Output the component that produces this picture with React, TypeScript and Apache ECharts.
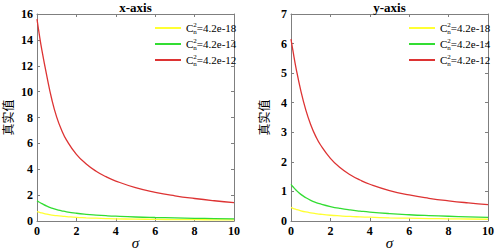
import React, { useEffect, useRef } from "react";
import * as echarts from "echarts";

const sigma = [0, 0.1, 0.25, 0.5, 0.75, 1, 1.25, 1.5, 2, 2.5, 3, 3.5, 4, 5, 6, 7, 8, 9, 10];
const seriesNames = ["C_n^2=4.2e-18", "C_n^2=4.2e-14", "C_n^2=4.2e-12"];
const seriesColors = ["#ffff33", "#33dd33", "#dd3333"];
const panelTitles = ["x-axis", "y-axis"];
const xTicks = [0, 2, 4, 6, 8, 10];
const yMaxes = [16, 7];
const yIntervals = [2, 1];

// x-axis panel
const xYellow = [0.72, 0.68, 0.62, 0.53, 0.46, 0.41, 0.37, 0.34, 0.28, 0.245, 0.215, 0.19, 0.17, 0.145, 0.125, 0.11, 0.1, 0.09, 0.08];
const xGreen = [1.55, 1.47, 1.34, 1.15, 1.0, 0.88, 0.79, 0.71, 0.6, 0.52, 0.46, 0.41, 0.37, 0.31, 0.27, 0.24, 0.21, 0.19, 0.17];
const xRed = [15.6, 14.58, 13.19, 11.2, 9.41, 8.03, 7.02, 6.25, 5.15, 4.41, 3.85, 3.43, 3.09, 2.58, 2.22, 1.95, 1.74, 1.565, 1.42];

// y-axis panel
const yYellow = [0.46, 0.43, 0.395, 0.345, 0.305, 0.275, 0.25, 0.228, 0.195, 0.172, 0.153, 0.14, 0.128, 0.108, 0.094, 0.083, 0.074, 0.067, 0.06];
const yGreen = [1.24, 1.16, 1.05, 0.9, 0.79, 0.7, 0.63, 0.575, 0.49, 0.425, 0.375, 0.335, 0.3, 0.25, 0.212, 0.183, 0.16, 0.14, 0.12];
const yRed = [6.15, 5.75, 5.19, 4.4, 3.76, 3.26, 2.87, 2.57, 2.12, 1.8, 1.566, 1.386, 1.243, 1.03, 0.88, 0.768, 0.681, 0.612, 0.555];

const panels = [
  [xYellow, xGreen, xRed],
  [yYellow, yGreen, yRed],
];

const SERIF = "'Liberation Serif', 'Times New Roman', 'DejaVu Serif', serif";
const CJK = "'Liberation Serif', 'Noto Sans CJK SC', serif";
const AXIS_COLOR = "#7f7f7f";

export default function App() {
  const ref = useRef<HTMLDivElement>(null);

  useEffect(() => {
    if (!ref.current) return;
    const chart = echarts.init(ref.current, undefined, { renderer: "svg" });

    const grids = [
      { left: 37, top: 14, width: 197, height: 207, outerBoundsMode: "none", containLabel: false },
      { left: 291, top: 14, width: 197, height: 207, outerBoundsMode: "none", containLabel: false },
    ];

    const lineCfg = { show: true, onZero: false, lineStyle: { color: AXIS_COLOR, width: 1 } };
    const tickCfg = { show: true, inside: true, length: 3, lineStyle: { color: AXIS_COLOR } };
    const labelCfg = { color: "#000", fontFamily: SERIF, fontWeight: "bold", fontSize: 12, margin: 4 };

    const xAxes: any[] = [];
    const yAxes: any[] = [];
    grids.forEach((_, g) => {
      xAxes.push({
        type: "value",
        gridIndex: g,
        position: "bottom",
        min: xTicks[0],
        max: xTicks[xTicks.length - 1],
        interval: 2,
        axisLine: lineCfg,
        axisTick: tickCfg,
        axisLabel: labelCfg,
        splitLine: { show: false },
        name: "σ",
        nameLocation: "middle",
        nameGap: 14,
        nameMoveOverlap: false,
        nameTextStyle: { color: "#000", fontFamily: SERIF, fontStyle: "italic", fontSize: 15 },
      });
      xAxes.push({
        type: "value",
        gridIndex: g,
        position: "top",
        min: xTicks[0],
        max: xTicks[xTicks.length - 1],
        interval: 2,
        axisLine: lineCfg,
        axisTick: tickCfg,
        axisLabel: { show: false },
        splitLine: { show: false },
      });
      yAxes.push({
        type: "value",
        gridIndex: g,
        position: "left",
        min: 0,
        max: yMaxes[g],
        interval: yIntervals[g],
        axisLine: lineCfg,
        axisTick: tickCfg,
        axisLabel: labelCfg,
        splitLine: { show: false },
        name: "真实值",
        nameLocation: "middle",
        nameRotate: 90,
        nameGap: g === 0 ? 22 : 20,
        nameTextStyle: { color: "#000", fontFamily: CJK, fontSize: 12 },
      });
      yAxes.push({
        type: "value",
        gridIndex: g,
        position: "right",
        min: 0,
        max: yMaxes[g],
        interval: yIntervals[g],
        axisLine: lineCfg,
        axisTick: tickCfg,
        axisLabel: { show: false },
        splitLine: { show: false },
      });
    });

    const series: any[] = [];
    panels.forEach((vals, g) => {
      vals.forEach((arr, i) => {
        series.push({
          type: "line",
          name: seriesNames[i],
          xAxisIndex: g * 2,
          yAxisIndex: g * 2,
          data: sigma.map((s, k) => [s, arr[k]]),
          smooth: true,
          symbol: "none",
          lineStyle: { color: seriesColors[i], width: 1.3 },
          itemStyle: { color: seriesColors[i] },
        });
      });
    });

    const legendRich = {
      c: { fontFamily: SERIF, fontSize: 11, color: "#000", lineHeight: 14 },
      n: { fontFamily: SERIF, fontSize: 7, color: "#000", width: 0.01, verticalAlign: "bottom", lineHeight: 14 },
      s: { fontFamily: SERIF, fontSize: 7, color: "#000", verticalAlign: "top", lineHeight: 14 },
      t: { fontFamily: SERIF, fontSize: 11, color: "#000", lineHeight: 14 },
    };
    const legendFormatter = (name: string) => `{c|C}{n|n}{s|2}{t|${name.slice(5)}}`;

    const legends = grids.map((gr) => ({
      orient: "vertical",
      left: gr.left + 113,
      top: 16,
      itemWidth: 26,
      itemHeight: 2,
      itemGap: 2,
      icon: "rect",
      data: seriesNames,
      formatter: legendFormatter,
      textStyle: { rich: legendRich },
      selectedMode: false,
    }));

    chart.setOption({
      animation: false,
      backgroundColor: "#fff",
      title: grids.map((gr, g) => ({
        text: panelTitles[g],
        left: gr.left + gr.width / 2,
        textAlign: "center",
        top: 1,
        padding: 0,
        textStyle: { fontFamily: SERIF, fontWeight: "bold", fontSize: 13, color: "#000" },
      })),
      grid: grids,
      xAxis: xAxes,
      yAxis: yAxes,
      legend: legends,
      series,
    });

    return () => chart.dispose();
  }, []);

  return (
    <div
      ref={ref}
      style={{ position: "fixed", left: 0, top: 0, width: 495, height: 252 }}
    />
  );
}
